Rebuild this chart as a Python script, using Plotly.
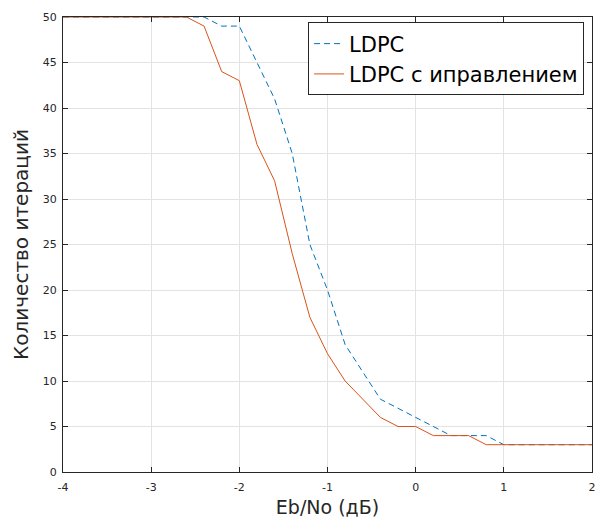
import plotly.graph_objects as go

ebno = [-4.0, -3.8, -3.6, -3.4, -3.2, -3.0, -2.8, -2.6, -2.4, -2.2, -2.0, -1.8, -1.6, -1.4, -1.2, -1.0,
        -0.8, -0.6, -0.4, -0.2, 0.0, 0.2, 0.4, 0.6, 0.8, 1.0, 1.2, 1.4, 1.6, 1.8, 2.0]
ldpc = [50, 50, 50, 50, 50, 50, 50, 50, 50, 49, 49, 45, 41, 35, 25, 20,
        14, 11, 8, 7, 6, 5, 4, 4, 4, 3, 3, 3, 3, 3, 3]
ldpc_fix = [50, 50, 50, 50, 50, 50, 50, 50, 49, 44, 43, 36, 32, 24, 17, 13,
            10, 8, 6, 5, 5, 4, 4, 4, 3, 3, 3, 3, 3, 3, 3]
x_ticks = [-4, -3, -2, -1, 0, 1, 2]
x_tick_labels = ["-4", "-3", "-2", "-1", "0", "1", "2"]
y_ticks = [0, 5, 10, 15, 20, 25, 30, 35, 40, 45, 50]

font_family = "DejaVu Sans, sans-serif"

fig = go.Figure()
fig.add_trace(go.Scatter(x=ebno, y=ldpc, mode="lines", name="LDPC",
                         line=dict(color="#0072BD", width=1, dash="6px,4px")))
fig.add_trace(go.Scatter(x=ebno, y=ldpc_fix, mode="lines", name="LDPC с иправлением",
                         line=dict(color="#D95319", width=1)))

axis_common = dict(
    showline=True, linecolor="#262626", linewidth=1, mirror="ticks",
    ticks="inside", ticklen=5, tickcolor="#262626",
    showgrid=True, gridcolor="#E3E3E3", gridwidth=1,
    zeroline=False, automargin=False,
    tickfont=dict(family=font_family, size=11, color="#262626"),
)

# The page body adds an 8px offset; compensate in size/margins.
fig.update_layout(
    width=598, height=510,
    margin=dict(l=55, r=14, t=9, b=46),
    paper_bgcolor="white", plot_bgcolor="white",
    font=dict(family=font_family, color="#262626"),
    xaxis=dict(range=[-4, 2], tickvals=x_ticks, ticktext=x_tick_labels, ticklabelstandoff=5,
               title=dict(text="Eb/No (дБ)", font=dict(size=19, family=font_family, color="#262626"), standoff=8),
               **axis_common),
    yaxis=dict(range=[0, 50], tickvals=y_ticks, ticklabelstandoff=3,
               title=dict(text="Количество итераций", font=dict(size=20, family=font_family, color="#262626"), standoff=8),
               **axis_common),
    legend=dict(x=0.985, y=0.988, xanchor="right", yanchor="top",
                bgcolor="white", bordercolor="#262626", borderwidth=1,
                font=dict(size=21, family=font_family, color="#000000"),
                tracegroupgap=0, itemwidth=30),
    showlegend=True,
)

fig.write_html("out.html")
